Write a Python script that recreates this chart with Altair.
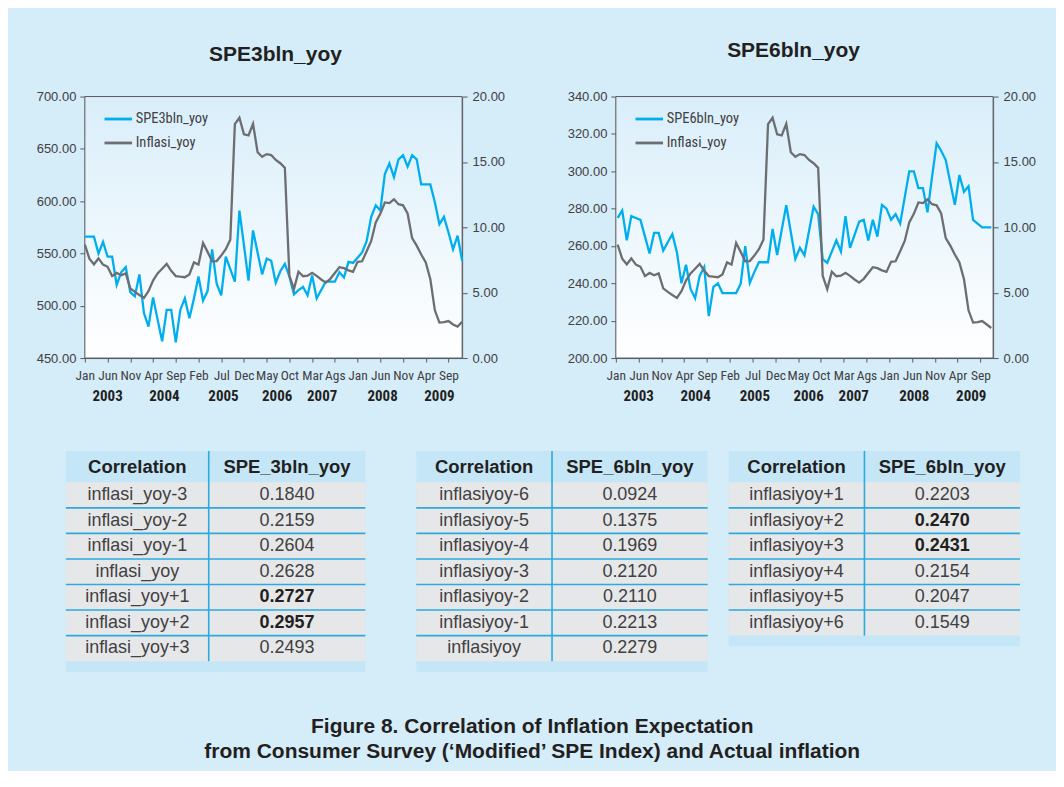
import altair as alt
import pandas as pd

# ---------------- data ----------------
tick_labels = ["Jan", "Jun", "Nov", "Apr", "Sep", "Feb", "Jul", "Dec", "May",
               "Oct", "Mar", "Ags", "Jan", "Jun", "Nov", "Apr", "Sep"]
years = ["2003", "2004", "2005", "2006", "2007", "2008", "2009"]
year_pos = [5, 17.5, 30.5, 42.3, 52.2, 65.5, 78]

# Chart 1 : Jan 2003 - Dec 2009 (monthly)
spe3 = [566, 566, 566, 550, 561, 547, 547, 520, 532, 537,
        513, 509, 530, 493, 480, 508, 487, 466, 496, 496,
        465, 496, 507, 488, 507, 528, 505, 514, 554, 521,
        510, 547, 535, 523, 591, 558, 524, 572, 551, 530,
        545, 543, 522, 533, 540, 528, 511, 515, 518, 510,
        529, 507, 515, 523, 523, 523, 532, 527, 542, 541,
        546, 551, 562, 585, 596, 591, 626, 636, 623, 640,
        644, 633, 644, 640, 616, 616, 616, 599, 578, 585,
        570, 554, 567, 543]
infl_3 = [8.68, 7.60, 7.17, 7.62, 7.15, 6.98, 6.27, 6.51, 6.33, 6.48, 5.33, 5.06,
          4.82, 4.60, 5.11, 5.92, 6.47, 6.83, 7.20, 6.67, 6.27, 6.22, 6.18, 6.40,
          7.32, 7.15, 8.81, 8.12, 7.40, 7.42, 7.84, 8.33, 9.06, 17.89, 18.38, 17.11,
          17.03, 17.92, 15.74, 15.40, 15.60, 15.53, 15.15, 14.90, 14.55, 6.29, 5.27, 6.60,
          6.26, 6.30, 6.52, 6.29, 6.01, 5.77, 6.06, 6.51, 6.95, 6.88, 6.71, 6.59,
          7.36, 7.40, 8.17, 8.96, 10.38, 11.03, 11.90, 11.85, 12.14, 11.77, 11.68, 11.06,
          9.17, 8.60, 7.92, 7.31, 6.04, 3.65, 2.71, 2.75, 2.83, 2.57, 2.41, 2.78]

# Chart 2 : Jan 2003 - Nov 2009 (monthly)
spe6 = [275, 279, 263, 276, 275, 274, 265, 256, 267, 267,
        257.5, 262, 266.4, 256.7, 240, 250, 237, 232, 244, 248.7,
        222.5, 238, 240, 234.8, 234.8, 234.8, 234.8, 239.8, 259.9, 240.3,
        246, 251.3, 251.3, 251.3, 269.1, 255.2, 268.5, 281.9, 267.5, 253.1,
        259, 255, 268, 281, 277, 253, 251, 257, 263, 257,
        276, 259, 266, 273, 274, 263, 274, 265, 282, 280,
        274, 277, 272, 286, 300, 300, 291, 291, 278, 297,
        315, 311, 306, 294, 282, 298, 289, 292, 274, 272,
        270, 270, 270]
infl_6 = [8.68, 7.60, 7.17, 7.62, 7.15, 6.98, 6.27, 6.51, 6.33, 6.48, 5.33, 5.06,
          4.82, 4.60, 5.11, 5.92, 6.47, 6.83, 7.20, 6.67, 6.27, 6.22, 6.18, 6.40,
          7.32, 7.15, 8.81, 8.12, 7.40, 7.42, 7.84, 8.33, 9.06, 17.89, 18.38, 17.11,
          17.03, 17.92, 15.74, 15.40, 15.60, 15.53, 15.15, 14.90, 14.55, 6.29, 5.27, 6.60,
          6.26, 6.30, 6.52, 6.29, 6.01, 5.77, 6.06, 6.51, 6.95, 6.88, 6.71, 6.59,
          7.36, 7.40, 8.17, 8.96, 10.38, 11.03, 11.90, 11.85, 12.14, 11.77, 11.68, 11.06,
          9.17, 8.60, 7.92, 7.31, 6.04, 3.65, 2.71, 2.75, 2.83, 2.57, 2.30]

t1_labels = ["inflasi_yoy-3", "inflasi_yoy-2", "inflasi_yoy-1", "inflasi_yoy",
             "inflasi_yoy+1", "inflasi_yoy+2", "inflasi_yoy+3"]
t1_vals = [0.1840, 0.2159, 0.2604, 0.2628, 0.2727, 0.2957, 0.2493]
t2_labels = ["inflasiyoy-6", "inflasiyoy-5", "inflasiyoy-4", "inflasiyoy-3",
             "inflasiyoy-2", "inflasiyoy-1", "inflasiyoy"]
t2_vals = [0.0924, 0.1375, 0.1969, 0.2120, 0.2110, 0.2213, 0.2279]
t3_labels = ["inflasiyoy+1", "inflasiyoy+2", "inflasiyoy+3", "inflasiyoy+4",
             "inflasiyoy+5", "inflasiyoy+6"]
t3_vals = [0.2203, 0.2470, 0.2431, 0.2154, 0.2047, 0.1549]

caption = ["Figure 8. Correlation of Inflation Expectation",
           "from Consumer Survey (\u2018Modified\u2019 SPE Index) and Actual inflation"]

# ---------------- styles ----------------
BG = "#d5ecf9"
BLUE = "#00aeef"
GRAY = "#6d6e71"
AX = "#58595b"
TXT = "#414042"
DARK = "#231f20"
HEAD = "#c4e6f7"
BODY = "#e6e7e8"
SEP = "#29abe2"
NARROW = "Liberation Sans Narrow, Arial Narrow, Roboto Condensed, Roboto"
SANS = "Liberation Sans, Arial"

W, H = 378, 262
label_expr = "[" + ",".join("'%s'" % t for t in tick_labels) + "][round(datum.value/5)]"


def line_panel(title, name, spe, infl, ldom, lstep, xoff, xmax, ext_l, ext_r, tdx, tdy):
    n = len(spe)
    df = pd.DataFrame({"x": [i + xoff for i in range(n)], "spe": spe, "infl": infl})
    df["s1"] = name
    df["s2"] = "Inflasi_yoy"
    xs = alt.Scale(domain=[0, xmax], nice=False, zero=False)
    xaxis = alt.Axis(values=list(range(0, 81, 5)), labelExpr=label_expr, title=None,
                     grid=False, labelFlush=False, labelOverlap=False,
                     labelFont=NARROW, labelFontSize=13.5, labelColor=TXT,
                     domainColor=AX, tickColor=AX, tickSize=4, labelPadding=6)
    cscale = alt.Scale(domain=[name, "Inflasi_yoy"], range=[BLUE, GRAY])
    legend = alt.Legend(title=None, orient="none", legendX=20, legendY=9,
                        symbolType="M-1.15,0L1.15,0", symbolSize=576, symbolStrokeWidth=2.8,
                        labelFont=NARROW, labelFontSize=14.5, labelColor=TXT,
                        rowPadding=4, padding=0, labelOffset=4)
    grad = alt.LinearGradient(gradient="linear", x1=0, x2=0, y1=0, y2=1,
                              stops=[alt.GradientStop(color="#d9eefa", offset=0),
                                     alt.GradientStop(color="#ffffff", offset=1)])
    bg = alt.Chart(pd.DataFrame({"a": [0]})).mark_rect(
        color=grad, stroke=AX, strokeWidth=1).encode(
        x=alt.value(0), x2=alt.value(W), y=alt.value(0), y2=alt.value(H))
    lvals = list(range(ldom[0], ldom[1] + 1, lstep))
    blue = alt.Chart(df).mark_line(strokeWidth=2.3).encode(
        x=alt.X("x:Q", scale=xs, axis=xaxis),
        y=alt.Y("spe:Q", scale=alt.Scale(domain=ldom, nice=False, zero=False),
                axis=alt.Axis(orient="left", values=lvals, format=".2f", title=None,
                              grid=False, labelFont=SANS, labelFontSize=13, labelColor=TXT,
                              domainColor=AX, tickColor=AX, tickSize=5, labelPadding=4,
                              minExtent=ext_l, maxExtent=ext_l)),
        color=alt.Color("s1:N", scale=cscale, legend=legend))
    gray = alt.Chart(df).mark_line(strokeWidth=2.3).encode(
        x=alt.X("x:Q", scale=xs, axis=xaxis),
        y=alt.Y("infl:Q", scale=alt.Scale(domain=[0, 20], nice=False, zero=True),
                axis=alt.Axis(orient="right", values=[0, 5, 10, 15, 20], format=".2f",
                              title=None, grid=False, labelFont=SANS, labelFontSize=13,
                              labelColor=TXT, domainColor=AX, tickColor=AX, tickSize=5,
                              labelPadding=5, minExtent=ext_r, maxExtent=ext_r)),
        color=alt.Color("s2:N", scale=cscale, legend=legend))
    yr = alt.Chart(pd.DataFrame({"pos": year_pos, "year": years})).mark_text(
        font=NARROW, fontSize=15, fontWeight="bold", color=DARK, baseline="alphabetic").encode(
        x=alt.X("pos:Q", scale=xs, axis=xaxis), y=alt.value(H + 43.5), text="year:N")
    return alt.layer(bg, blue, gray, yr).resolve_scale(y="independent").properties(
        width=W, height=H,
        title=alt.TitleParams(text=title, fontSize=21, font=SANS, fontWeight="bold",
                              color=DARK, anchor="middle", offset=26, dx=tdx, dy=tdy))


HDR, STRIP, ROW = 1.23, 0.42, 25.6


def table(labels, vals, header, bold, width, d):
    n = len(labels)
    height = ROW * (n + HDR + STRIP)
    xs = alt.Scale(domain=[0, 1], nice=False, zero=False)
    ys = alt.Scale(domain=[-HDR, n + STRIP], nice=False, zero=False, reverse=True)

    def X(f):
        return alt.X(f, type="quantitative", scale=xs, axis=None)

    def Y(f):
        return alt.Y(f, type="quantitative", scale=ys, axis=None)

    frame = pd.DataFrame({"x0": [0], "x1": [1], "y0": [-HDR], "y1": [n + STRIP],
                          "b0": [0], "b1": [n]})
    back = alt.Chart(frame).mark_rect(color=HEAD).encode(x=X("x0"), x2="x1", y=Y("y0"), y2="y1")
    body = alt.Chart(frame).mark_rect(color=BODY).encode(x=X("x0"), x2="x1", y=Y("b0"), y2="b1")
    seps = alt.Chart(pd.DataFrame({"y": list(range(1, n)), "x0": 0, "x1": 1})).mark_rule(
        color=SEP, strokeWidth=1.6).encode(x=X("x0"), x2="x1", y=Y("y"))
    vline = alt.Chart(pd.DataFrame({"x": [d], "y0": [-HDR], "y1": [n]})).mark_rule(
        color=SEP, strokeWidth=1.6).encode(x=X("x"), y=Y("y0"), y2="y1")
    head = alt.Chart(pd.DataFrame({"x": [d / 2, (1 + d) / 2], "y": [-HDR / 2] * 2,
                                   "t": ["Correlation", header]})).mark_text(
        font=SANS, fontSize=18.5, fontWeight="bold", color=DARK).encode(
        x=X("x"), y=Y("y"), text="t:N")
    rows = []
    for i, (lab, v, b) in enumerate(zip(labels, vals, bold)):
        rows.append({"x": d / 2, "y": i + 0.5, "t": lab, "b": False})
        rows.append({"x": (1 + d) / 2, "y": i + 0.5, "t": "%.4f" % v, "b": bool(b)})
    cells = pd.DataFrame(rows)
    normal = alt.Chart(cells).transform_filter("!datum.b").mark_text(
        font=SANS, fontSize=18, color=TXT).encode(x=X("x"), y=Y("y"), text="t:N")
    strong = alt.Chart(cells).transform_filter("datum.b").mark_text(
        font=SANS, fontSize=18, fontWeight="bold", color=DARK).encode(
        x=X("x"), y=Y("y"), text="t:N")
    return alt.layer(back, body, seps, vline, head, normal, strong).properties(
        width=width, height=height)


def spacer(w):
    return alt.Chart(pd.DataFrame({"a": [0]})).mark_point(opacity=0, size=1).encode(
        x=alt.value(0), y=alt.value(0)).properties(width=w, height=1)


# highlight: two highest correlations of each series
top3 = sorted(t1_vals, reverse=True)[:2]
top6 = sorted(t2_vals + t3_vals, reverse=True)[:2]
b1 = [v in top3 for v in t1_vals]
b2 = [v in top6 for v in t2_vals]
b3 = [v in top6 for v in t3_vals]

p1 = line_panel("SPE3bln_yoy", "SPE3bln_yoy", spe3, infl_3, [450, 700], 50, 0, 83, 75, 55, 2, 0)
p2 = line_panel("SPE6bln_yoy", "SPE6bln_yoy", spe6, infl_6, [200, 340], 20, 0.4, 82.8, 60, 55, -11, -4)
top = alt.hconcat(spacer(1), p1, spacer(38), p2, spacing=0).resolve_scale(
    color="independent").resolve_legend(color="independent")

t1 = table(t1_labels, t1_vals, "SPE_3bln_yoy", b1, 300, 0.477)
t2 = table(t2_labels, t2_vals, "SPE_6bln_yoy", b2, 292, 0.466)
t3 = table(t3_labels, t3_vals, "SPE_6bln_yoy", b3, 292, 0.466)
tables = alt.hconcat(spacer(56), t1, spacer(48), t2, spacer(18), t3, spacing=0)

chart = alt.vconcat(top, tables, spacing=45).resolve_scale(color="independent").properties(
    title=alt.TitleParams(text=caption, orient="bottom", anchor="middle", fontSize=21,
                          font=SANS, fontWeight="bold", color=DARK, offset=44.5,
                          lineHeight=24.3, dx=4),
    padding={"left": 0, "top": 31, "right": 8, "bottom": 8},
).configure(background=BG).configure_view(stroke=None)

chart.save("out.html", embed_options={"renderer": "svg", "actions": False})
